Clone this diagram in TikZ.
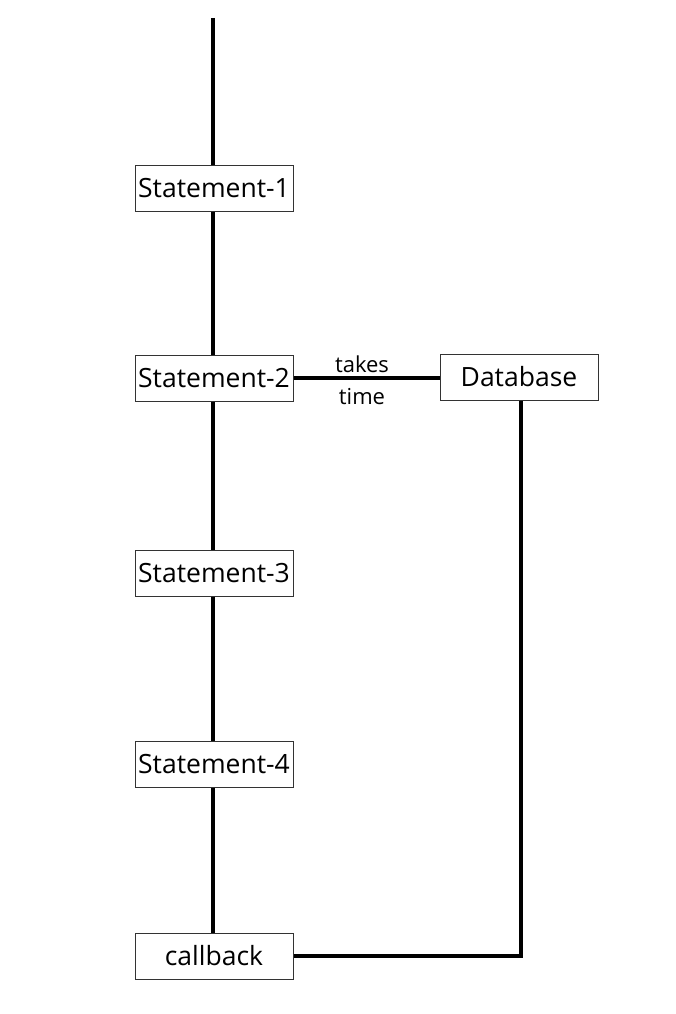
\documentclass[tikz,border=0pt]{standalone}
\usepackage{fontspec}
\setmainfont{Open Sans}
\begin{document}
\begin{tikzpicture}[x=1pt,y=-1pt,
  box/.style={draw=black!80,line width=1pt,minimum width=158pt,minimum height=46pt,inner sep=0pt,font=\fontsize{26.5}{30}\selectfont},
  wire/.style={line width=3.5pt},
  lbl/.style={font=\fontsize{22}{25}\selectfont,inner sep=0pt}]
\useasboundingbox (0,0) rectangle (676,1014);
\coordinate (top) at (213,18);
\node[box] (s1) at (214,188) {Statement-1};
\node[box] (s2) at (214,378) {Statement-2};
\node[box] (s3) at (214,573) {Statement-3};
\node[box] (s4) at (214,764) {Statement-4};
\node[box] (cb) at (214,956) {callback};
\node[box] (db) at (519,377) {Database};
\coordinate (corner) at (521,956);
\draw[wire] (top) -- (s1.north -| top);
\draw[wire] (s1.south -| top) -- (s2.north -| top);
\draw[wire] (s2.south -| top) -- (s3.north -| top);
\draw[wire] (s3.south -| top) -- (s4.north -| top);
\draw[wire] (s4.south -| top) -- (cb.north -| top);
\draw[wire] (s2.east) -- (s2.east -| db.west);
\node[lbl] at (362,364) {takes};
\node[lbl] at (362,397) {time};
\draw[wire] (db.south -| corner) -- (corner) -- (cb.east);
\end{tikzpicture}
\end{document}
